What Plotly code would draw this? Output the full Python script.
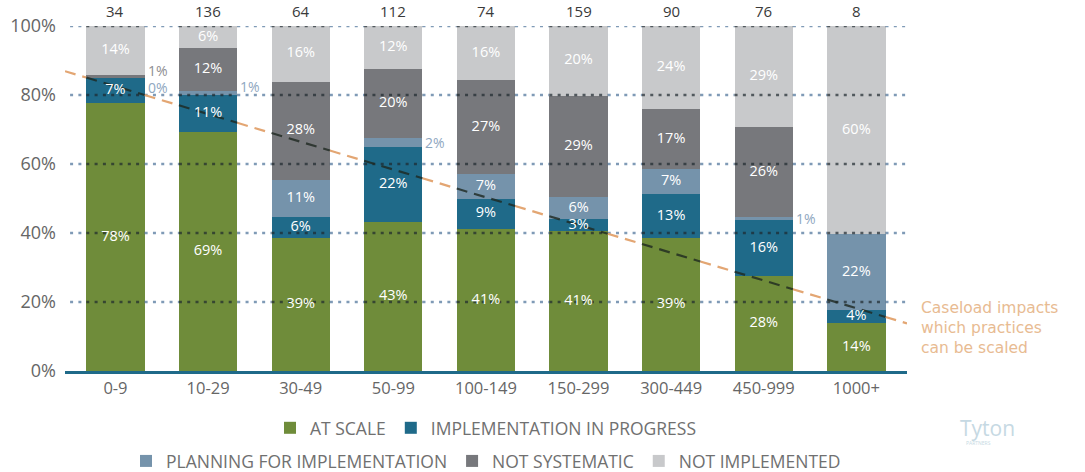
import plotly.graph_objects as go

# ---------------- data ----------------
categories = ["0-9", "10-29", "30-49", "50-99", "100-149", "150-299", "300-449", "450-999", "1000+"]
respondents = [34, 136, 64, 112, 74, 159, 90, 76, 8]

at_scale = [77.6, 69.3, 38.6, 43.3, 41.2, 40.6, 38.6, 27.6, 13.8]
in_progress = [7.2, 10.6, 6.1, 21.7, 8.7, 3.4, 12.7, 16.1, 3.8]
planning = [0.0, 1.3, 10.8, 2.4, 7.3, 6.4, 7.3, 0.8, 22.0]
not_systematic = [1.0, 12.4, 28.4, 20.2, 27.1, 29.4, 17.3, 26.1, None]
not_implemented = [14.2, 6.4, 16.1, 12.4, 15.7, 20.2, 24.1, 29.4, 60.4]

series_names = ["AT SCALE", "IMPLEMENTATION IN PROGRESS", "PLANNING FOR IMPLEMENTATION",
                "NOT SYSTEMATIC", "NOT IMPLEMENTED"]
series_values = [at_scale, in_progress, planning, not_systematic, not_implemented]

y_tick_vals = [0, 20, 40, 60, 80, 100]
y_tick_text = ["0%", "20%", "40%", "60%", "80%", "100%"]
trend_note = "Caseload impacts<br>which practices<br>can be scaled"

# ---------------- styles ----------------
FONT = "Open Sans"
colors = ["#6f8c3a", "#1f6a89", "#7593ab", "#77787c", "#c8c9cb"]
outside_label_colors = ["#6f8c3a", "#1f6a89", "#8fa7bf", "#8e8e92", "#b0b0b0"]
legend_of = ["legend", "legend", "legend2", "legend2", "legend2"]
BAR_WIDTH = 0.63
X_RANGE = [-0.545, 8.547]
INSIDE_MIN = 3.0
outside_shift = {(0, 3): 6, (0, 2): -9, (1, 2): 7}

TREND_START = (-0.545, 86.9)
TREND_END = (8.547, 13.8)
GRID_X0 = -0.49

xpos = list(range(len(categories)))

fig = go.Figure()

# stacked bars
for k, (name, vals) in enumerate(zip(series_names, series_values)):
    fig.add_trace(go.Bar(
        x=xpos, y=vals, name=name, marker_color=colors[k], marker_line_width=0,
        legend=legend_of[k], hoverinfo="skip",
    ))


def split(x0, y0, x1, y1):
    edges = []
    for i in range(len(categories)):
        edges += [i - BAR_WIDTH / 2, i + BAR_WIDTH / 2]
    pts = [x0] + [e for e in edges if x0 < e < x1] + [x1]
    out_x, out_y, in_x, in_y = [], [], [], []
    f = lambda x: y0 + (y1 - y0) * (x - x0) / (x1 - x0)
    for a, b in zip(pts[:-1], pts[1:]):
        m = (a + b) / 2
        inside = any(abs(m - i) < BAR_WIDTH / 2 for i in range(len(categories)))
        tx, ty = (in_x, in_y) if inside else (out_x, out_y)
        tx += [a, b, None]
        ty += [f(a), f(b), None]
    return out_x, out_y, in_x, in_y


# dotted gridlines (above bars)
gox, goy, gix, giy = [], [], [], []
for t in y_tick_vals[1:]:
    a, b, c, d = split(GRID_X0, t, X_RANGE[1], t)
    gox += a; goy += b; gix += c; giy += d
fig.add_trace(go.Scatter(x=gox, y=goy, mode="lines", showlegend=False, hoverinfo="skip",
                         line=dict(color="#7f9ab6", width=2.6, dash="3px,5.3px"), cliponaxis=False))
fig.add_trace(go.Scatter(x=gix, y=giy, mode="lines", showlegend=False, hoverinfo="skip",
                         line=dict(color="rgba(30,40,45,0.7)", width=2.6, dash="3px,5.3px"), cliponaxis=False))

# dashed trend line
tox, toy, tix, tiy = split(TREND_START[0], TREND_START[1], TREND_END[0], TREND_END[1])
fig.add_trace(go.Scatter(x=tox, y=toy, mode="lines", showlegend=False, hoverinfo="skip",
                         line=dict(color="#e3a673", width=2.2, dash="11px,7px"), cliponaxis=False))
fig.add_trace(go.Scatter(x=tix, y=tiy, mode="lines", showlegend=False, hoverinfo="skip",
                         line=dict(color="rgba(30,40,32,0.8)", width=2.2, dash="11px,7px"), cliponaxis=False))

# segment labels (drawn above lines)
lx, ly, lt = [], [], []
for i in range(len(categories)):
    base = 0.0
    for k, vals in enumerate(series_values):
        v = vals[i]
        if v is None:
            continue
        if v >= INSIDE_MIN:
            lx.append(i); ly.append(base + v / 2); lt.append(f"{v:.0f}%")
        else:
            fig.add_annotation(
                x=i + BAR_WIDTH / 2, y=base + v / 2, xref="x", yref="y",
                text=f"{v:.0f}%", showarrow=False, xanchor="left", yanchor="middle",
                xshift=1, yshift=outside_shift.get((i, k), 0),
                font=dict(size=14, color=outside_label_colors[k], family=FONT),
            )
        base += v
fig.add_trace(go.Scatter(x=lx, y=ly, text=lt, mode="text", textposition="middle center",
                         textfont=dict(color="white", size=14.5, family=FONT),
                         showlegend=False, hoverinfo="skip", cliponaxis=False))

# respondent counts above bars
for i, n in enumerate(respondents):
    fig.add_annotation(x=i, y=100, xref="x", yref="y", text=str(n), showarrow=False,
                       yanchor="bottom", yshift=3, font=dict(size=15, color="#3a3a3a", family=FONT))

# trend note
fig.add_annotation(x=1.016, y=12.5, xref="paper", yref="y", text=trend_note, showarrow=False,
                   xanchor="left", yanchor="middle", align="left", borderpad=0,
                   font=dict(size=15.5, color="#e8bb92", family="DejaVu Sans"))

# logo text
fig.add_annotation(x=1.061, y=-0.165, xref="paper", yref="paper", text="Tyton", showarrow=False,
                   xanchor="left", yanchor="middle", font=dict(size=21, color="#c6d9e3", family=FONT))
fig.add_annotation(x=1.068, y=-0.21, xref="paper", yref="paper", text="PARTNERS", showarrow=False,
                   xanchor="left", yanchor="middle", font=dict(size=5, color="#c6d9e3", family=FONT))

fig.update_layout(
    width=1085, height=472, autosize=False,
    margin=dict(l=65, r=178, t=26, b=101, autoexpand=False),
    barmode="stack", bargap=1 - BAR_WIDTH,
    plot_bgcolor="white", paper_bgcolor="white",
    font=dict(family=FONT, color="#666666"),
    xaxis=dict(range=X_RANGE, tickvals=xpos, ticktext=categories, showgrid=False,
               zeroline=False, showline=True, linecolor="#1f6a89", linewidth=3, ticks="",
               fixedrange=True, tickfont=dict(size=16.5, color="#666666", family=FONT),
               ticklabelstandoff=0),
    yaxis=dict(range=[0, 100], tickvals=y_tick_vals, ticktext=y_tick_text, showgrid=False,
               zeroline=False, showline=False, ticks="", fixedrange=True,
               tickfont=dict(size=18, color="#666666", family=FONT), ticklabelstandoff=8),
    legend=dict(orientation="h", x=0.5, xanchor="center", y=-0.165, yanchor="middle",
                traceorder="normal",
                font=dict(size=17.5, color="#707070", family=FONT), bgcolor="rgba(0,0,0,0)"),
    legend2=dict(orientation="h", x=0.5, xanchor="center", y=-0.261, yanchor="middle",
                 traceorder="normal",
                 font=dict(size=17.5, color="#707070", family=FONT), bgcolor="rgba(0,0,0,0)"),
    showlegend=True,
)

fig.write_html("out.html")
